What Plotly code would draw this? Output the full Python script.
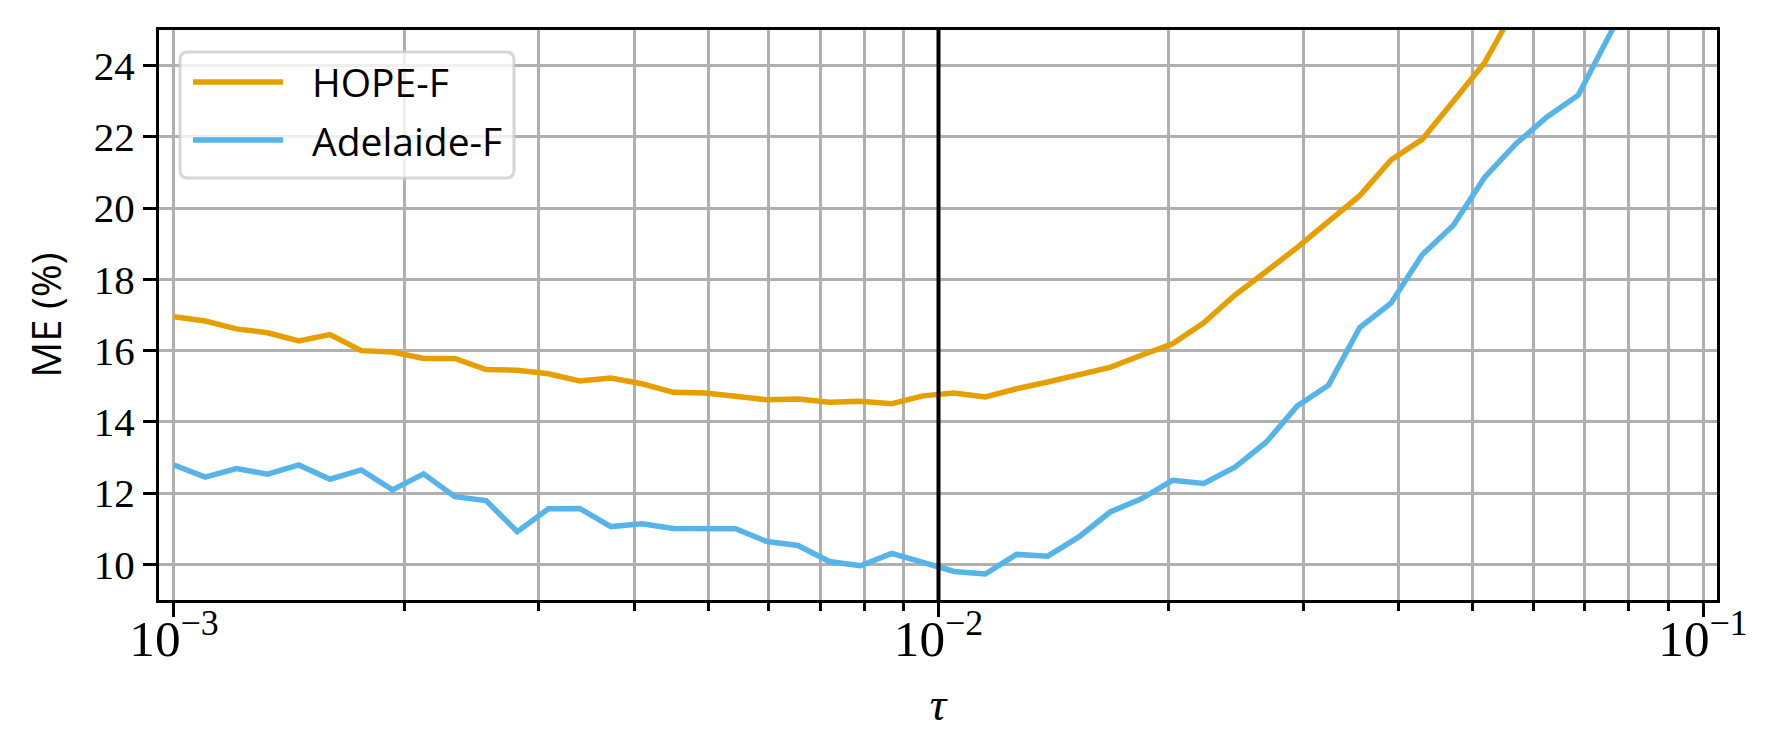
import plotly.graph_objects as go

# ---- data ----
tau = [0.001, 0.0010985, 0.0012068, 0.0013257, 0.0014563, 0.0015999, 0.0017575,
       0.0019307, 0.0021210, 0.0023300, 0.0025595, 0.0028118, 0.0030888, 0.0033932,
       0.0037276, 0.0040949, 0.0044984, 0.0049417, 0.0054287, 0.0059636, 0.0065513,
       0.0071969, 0.0079060, 0.0086851, 0.0095410, 0.010481, 0.011514, 0.012649,
       0.013895, 0.015264, 0.016768, 0.018421, 0.020236, 0.022230, 0.024421,
       0.026827, 0.029471, 0.032375, 0.035565, 0.039069, 0.042919, 0.047149,
       0.051795, 0.056899, 0.062506, 0.068665, 0.075431, 0.082864, 0.091030, 0.1]

hope_f = [16.95, 16.83, 16.61, 16.50, 16.27, 16.45, 16.00, 15.96, 15.78, 15.78,
          15.47, 15.45, 15.35, 15.15, 15.23, 15.07, 14.83, 14.81, 14.72, 14.62,
          14.64, 14.55, 14.58, 14.51, 14.73, 14.81, 14.70, 14.93, 15.12, 15.33,
          15.53, 15.87, 16.19, 16.78, 17.56, 18.22, 18.90, 19.63, 20.35, 21.35,
          21.93, 23.00, 24.08, 25.65, 26.9, 28.4, 30.0, 31.8, 33.7, 35.9]

adelaide_f = [12.79, 12.45, 12.69, 12.53, 12.79, 12.39, 12.65, 12.09, 12.54, 11.90,
              11.79, 10.92, 11.56, 11.57, 11.06, 11.14, 11.01, 10.99, 11.00, 10.64,
              10.53, 10.08, 9.96, 10.31, 10.05, 9.80, 9.73, 10.28, 10.23, 10.77,
              11.47, 11.84, 12.36, 12.27, 12.73, 13.43, 14.45, 15.03, 16.65, 17.33,
              18.69, 19.52, 20.86, 21.80, 22.56, 23.17, 24.85, 26.4, 28.0, 29.8]

series_names = ["HOPE-F", "Adelaide-F"]
series_colors = ["#E69F00", "#56B4E9"]
tau_selected = 0.01

y_ticks = [10, 12, 14, 16, 18, 20, 22, 24]

# ---- figure ----
W, H = 1773, 750
ML, MR, MT, MB = 159, 56, 30, 150
pw, ph = W - ML - MR, H - MT - MB

SERIF = "Liberation Serif, DejaVu Serif, serif"
SANS = "Open Sans, DejaVu Sans, sans-serif"

fig = go.Figure()
for name, ys, col in zip(series_names, [hope_f, adelaide_f], series_colors):
    fig.add_trace(go.Scatter(x=tau, y=ys, mode="lines", name=name,
                             line=dict(color=col, width=5.5), showlegend=False))

# vertical reference line at the selected tau
fig.add_shape(type="line", xref="x", yref="paper", x0=tau_selected, x1=tau_selected,
              y0=0, y1=1, line=dict(color="black", width=4), layer="above")

# ---- legend drawn manually (matplotlib style, rounded frame) ----
def px2paper(px, py):
    return (px - ML) / pw, (H - MB - py) / ph

bx0, by0 = 180, 52
bx1, by1 = 514, 178
r = 8
def P(px, py):
    x, y = px2paper(px, py)
    return f"{x:.5f},{y:.5f}"
path = (f"M {P(bx0 + r, by0)} L {P(bx1 - r, by0)} Q {P(bx1, by0)} {P(bx1, by0 + r)} "
        f"L {P(bx1, by1 - r)} Q {P(bx1, by1)} {P(bx1 - r, by1)} "
        f"L {P(bx0 + r, by1)} Q {P(bx0, by1)} {P(bx0, by1 - r)} "
        f"L {P(bx0, by0 + r)} Q {P(bx0, by0)} {P(bx0 + r, by0)} Z")
fig.add_shape(type="path", xref="paper", yref="paper", path=path,
              fillcolor="rgba(255,255,255,0.8)",
              line=dict(color="rgba(204,204,204,0.8)", width=3), layer="above")

row_y = [82, 140]
for name, col, ry in zip(series_names, series_colors, row_y):
    x0, y0 = px2paper(193, ry)
    x1, _ = px2paper(283, ry)
    fig.add_shape(type="line", xref="paper", yref="paper", x0=x0, x1=x1, y0=y0, y1=y0,
                  line=dict(color=col, width=5.5), layer="above")
    tx, _ = px2paper(310, ry)
    fig.add_annotation(xref="paper", yref="paper", x=tx, y=y0, text=name,
                       showarrow=False, xanchor="left", yanchor="middle",
                       font=dict(family=SANS, size=39, color="black"))

fig.update_layout(
    width=W, height=H,
    margin=dict(l=ML, r=MR, t=MT, b=MB, pad=0),
    plot_bgcolor="white", paper_bgcolor="white",
    showlegend=False,
)

fig.update_xaxes(
    type="log", range=[-3.0196, -0.9817],
    dtick=1, exponentformat="power",
    showline=True, linecolor="black", linewidth=3, mirror=True,
    ticks="outside", ticklen=14, tickwidth=3, tickcolor="black",
    showgrid=True, gridcolor="#b0b0b0", gridwidth=3,
    minor=dict(dtick="D1", ticks="outside", ticklen=8, tickwidth=2.5, tickcolor="black",
               showgrid=True, gridcolor="#b0b0b0", gridwidth=3),
    tickfont=dict(family=SERIF, size=41, color="black"),
    ticklabelstandoff=-20,
    title=dict(text="<i>τ</i>", font=dict(family=SERIF, size=46, color="black"), standoff=22),
    zeroline=False,
)

fig.update_yaxes(
    range=[9, 25], tickvals=y_ticks,
    showline=True, linecolor="black", linewidth=3, mirror=True,
    ticks="outside", ticklen=13, tickwidth=3, tickcolor="black",
    showgrid=True, gridcolor="#b0b0b0", gridwidth=3,
    tickfont=dict(family=SERIF, size=41, color="black"),
    title=dict(text="ME (%)", font=dict(family=SANS, size=40, color="black"), standoff=20),
    zeroline=False,
)

fig.write_html("out.html", config={"displayModeBar": False})

# remove the default page margin so the figure sits at the window origin
with open("out.html", "r", encoding="utf-8") as f:
    html = f.read()
html = html.replace("<head>", "<head><style>html,body{margin:0;padding:0;}</style>", 1)
with open("out.html", "w", encoding="utf-8") as f:
    f.write(html)
